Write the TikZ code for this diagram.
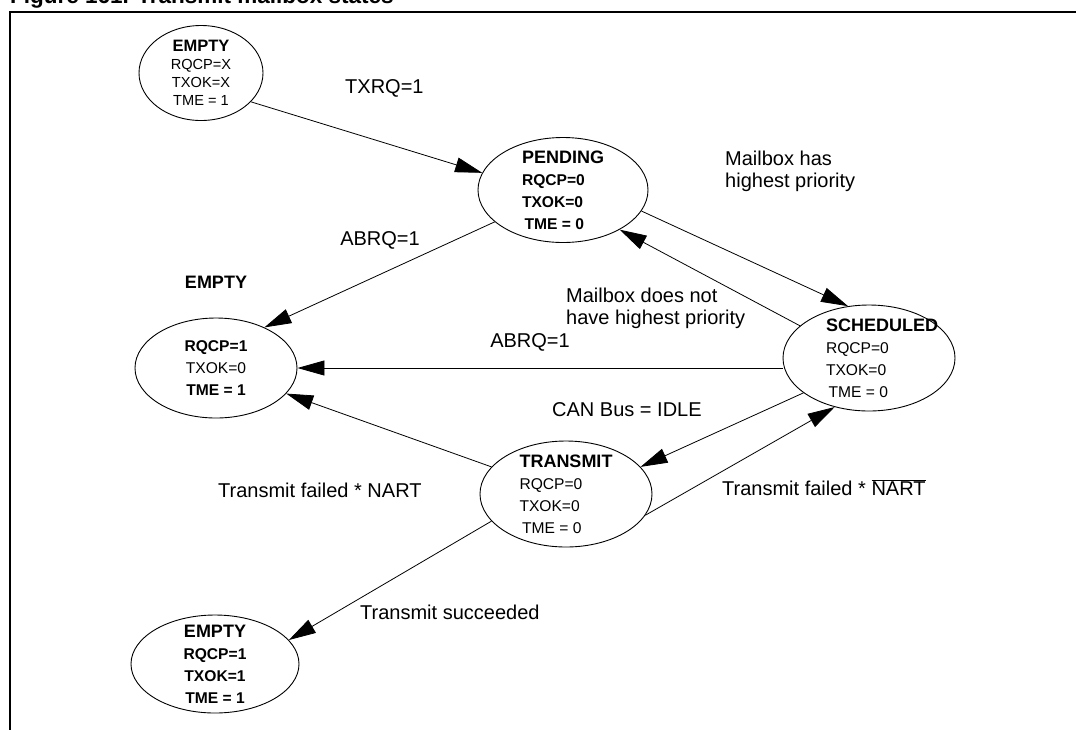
\documentclass[tikz,border=0pt]{standalone}
\usepackage{fontspec}
\setmainfont{Liberation Sans}
\usetikzlibrary{arrows.meta,positioning,shapes.geometric}

\newcommand{\valsize}{\fontsize{15.6}{22}\selectfont}
\newcommand{\namesize}{\fontsize{18}{22}\selectfont\bfseries}
\newcommand{\smallvalsize}{\fontsize{14.6}{18}\selectfont}
\newcommand{\smallnamesize}{\fontsize{16.5}{18}\selectfont\bfseries}
\newcommand{\lblsize}{\fontsize{20}{22}\selectfont}
\newcommand{\indt}{\hspace*{26pt}}

\begin{document}
\begin{tikzpicture}[
        x=1pt, y=-1pt,
        state/.style={
            draw,
            ellipse,
            line width=0.9pt,
            align=center,
            inner xsep=0pt,
            inner ysep=-8pt,
            minimum width=170pt,
            minimum height=105pt,
            font=\valsize
        },
        stname/.style={font=\namesize, inner sep=0pt},
        lbl/.style={font=\lblsize, align=left, inner sep=0pt},
        arrow/.style={-{Triangle[length=27pt, width=15pt]}, line width=0.8pt}
    ]
        \useasboundingbox (0,0) rectangle (1076,729);

        % frame and caption (cut off at the top)
        \node[anchor=base west, inner sep=0pt, font=\fontsize{22.5}{23}\selectfont\bfseries] (title) at (10,3) {Figure 161. Transmit mailbox states};
        \draw[line width=2pt] (10,740) -- (10,12) -- (1090,12);

        % states
        \node[state, font=\smallvalsize, inner ysep=-10pt, minimum width=124pt, minimum height=95pt] (empty1) at (201,73) {{\smallnamesize EMPTY}\\RQCP=X\\TXOK=X\\TME = 1};
        \node[state, align=left, font=\valsize\bfseries] (pending) at (563,190) {{\namesize PENDING}\\RQCP=0\\TXOK=0\\\,TME = 0};
        \node[state, minimum width=162pt, minimum height=100pt] (empty2) at (216,368) {\textbf{RQCP=1}\\TXOK=0\\\textbf{TME = 1}};
        \node[stname, above=29pt of empty2] (empty2name) {EMPTY};
        \node[state, align=left, inner xsep=-14pt, minimum width=172pt, minimum height=106pt] (sched) at (869,358) {\indt{\namesize SCHEDULED}\\\indt RQCP=0\\\indt TXOK=0\\\indt\,TME = 0};
        \node[state, align=left, minimum width=172pt, minimum height=106pt] (transmit) at (566,494) {{\namesize TRANSMIT}\\RQCP=0\\TXOK=0\\\,TME = 0};
        \node[state, font=\valsize\bfseries, minimum width=168pt, minimum height=98pt] (empty3) at (215,664) {{\namesize EMPTY}\\RQCP=1\\TXOK=1\\TME = 1};

        % transitions
        \draw[arrow] (empty1.-30) -- (pending.168);
        \draw[arrow] (pending.-15) -- (sched.112);
        \draw[arrow] (sched.155) -- (pending.-35);
        \draw[arrow] (pending.205) -- (empty2.40);
        \draw[arrow] (sched.west |- empty2) -- (empty2);
        \draw[arrow] (sched.208) -- (transmit.20);
        \draw[arrow] (transmit.-15) -- (sched.235);
        \draw[arrow] (transmit.160) -- (empty2.-20);
        \draw[arrow] (transmit.200) -- (empty3.18);

        % transition labels
        \node[lbl, anchor=west] (txrq) at (345,88) {TXRQ=1};
        \node[lbl, anchor=north west] (hasprio) at (725,151) {Mailbox has\\highest priority};
        \node[lbl] (abrqa) at (380,240) {ABRQ=1};
        \node[lbl, anchor=north west] (noprio) at (566,288) {Mailbox does not\\have highest priority};
        \node[lbl] (abrqb) at (530,342) {ABRQ=1};
        \node[lbl, anchor=west] (idle) at (552,410) {CAN Bus = IDLE};
        \node[lbl, anchor=west] (failnart) at (218,490) {Transmit failed * NART};
        \node[lbl, anchor=west] (failnbar) at (722,488) {Transmit failed * $\overline{\hbox{NART}}$};
        \node[lbl, anchor=west] (success) at (360,612) {Transmit succeeded};
    \end{tikzpicture}
\end{document}
